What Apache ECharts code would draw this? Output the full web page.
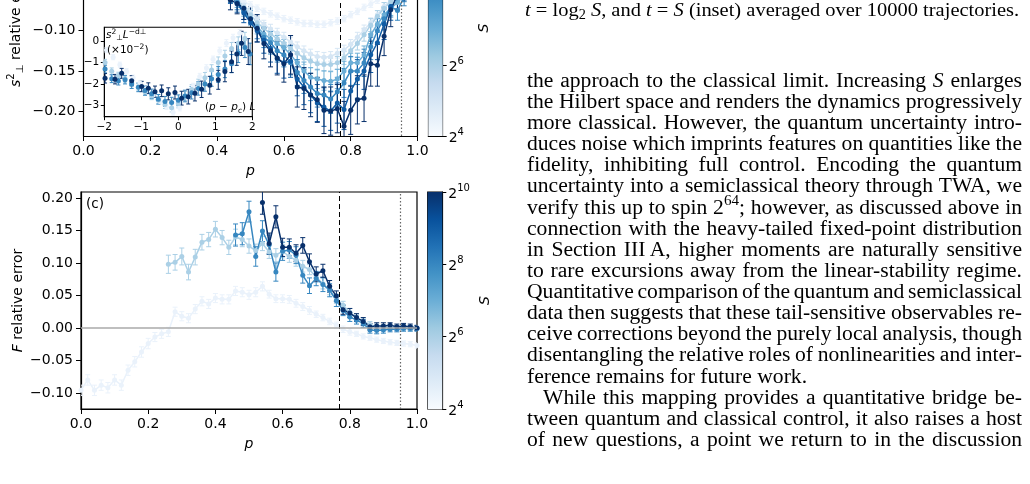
<!DOCTYPE html>
<html><head><meta charset="utf-8">
<script src="https://cdn.jsdelivr.net/npm/echarts@6/dist/echarts.min.js"></script>
<style>html,body{margin:0;padding:0;background:#fff;}#chart{width:1030px;height:484px;}</style>
</head><body><div id="chart"></div>
<script>
// ================= DATA =================
const P_CRIT = 0.772;          // dashed line
const P_DOT = 0.95;            // dotted line
const CBAR_RANGE = [4, 10];    // log2 S
const CBAR_TICKS = [4, 6, 8, 10];
const TOP_Y_TICKS = [-0.20, -0.15, -0.10];
const BOT_Y_TICKS = [-0.10, -0.05, 0.00, 0.05, 0.10, 0.15, 0.20];
const INS_Y_TICKS = [-3, -2, -1, 0];

// ---- panel (b): s_perp^2 relative error (upper part cropped) ----
const topP = [0.44,0.46,0.48,0.50,0.52,0.54,0.56,0.58,0.60,0.62,0.64,0.66,0.68,0.70,0.72,0.74,0.76,0.78,0.80,0.82,0.84,0.86,0.88,0.90,0.92,0.94,0.96];
const topV4  = [-0.055,-0.060,-0.064,-0.068,-0.072,-0.076,-0.079,-0.082,-0.085,-0.087,-0.089,-0.091,-0.091,-0.092,-0.092,-0.090,-0.088,-0.085,-0.080,-0.076,-0.071,-0.067,-0.062,-0.057,-0.052,-0.048,-0.044];
const topV5  = [-0.052,-0.060,-0.068,-0.077,-0.085,-0.092,-0.098,-0.103,-0.108,-0.114,-0.120,-0.125,-0.129,-0.132,-0.133,-0.132,-0.128,-0.124,-0.117,-0.108,-0.099,-0.090,-0.080,-0.070,-0.062,-0.055,-0.048];
const topV6  = [-0.054,-0.062,-0.071,-0.080,-0.090,-0.097,-0.104,-0.110,-0.116,-0.122,-0.128,-0.134,-0.138,-0.141,-0.142,-0.142,-0.140,-0.134,-0.125,-0.116,-0.105,-0.093,-0.082,-0.072,-0.064,-0.058,-0.050];
const topV7  = [-0.055,-0.064,-0.074,-0.085,-0.095,-0.104,-0.110,-0.116,-0.121,-0.130,-0.140,-0.150,-0.158,-0.160,-0.162,-0.163,-0.160,-0.150,-0.140,-0.140,-0.130,-0.105,-0.092,-0.080,-0.072,-0.065,-0.056];
const topV8  = [-0.056,-0.065,-0.076,-0.086,-0.098,-0.108,-0.115,-0.125,-0.130,-0.140,-0.152,-0.162,-0.170,-0.178,-0.180,-0.185,-0.176,-0.165,-0.150,-0.150,-0.140,-0.120,-0.100,-0.085,-0.070,-0.075,-0.058];
const topV9  = [-0.056,-0.066,-0.078,-0.090,-0.100,-0.112,-0.122,-0.135,-0.140,-0.138,-0.160,-0.170,-0.180,-0.190,-0.195,-0.200,-0.190,-0.198,-0.175,-0.160,-0.150,-0.130,-0.115,-0.092,-0.070,-0.060,-0.050];
const topV10 = [-0.062,-0.066,-0.072,-0.085,-0.097,-0.116,-0.125,-0.134,-0.141,-0.130,-0.170,-0.172,-0.180,-0.186,-0.199,-0.200,-0.197,-0.219,-0.199,-0.186,-0.184,-0.141,-0.143,-0.107,-0.074,-0.055,-0.045];
const topE4  = [0.004,0.004,0.004,0.004,0.004,0.004,0.004,0.004,0.004,0.004,0.004,0.004,0.004,0.004,0.004,0.004,0.004,0.004,0.004,0.004,0.004,0.004,0.004,0.004,0.004,0.004,0.004];
const topE5  = [0.005,0.005,0.005,0.005,0.005,0.005,0.006,0.006,0.006,0.006,0.006,0.006,0.006,0.006,0.006,0.006,0.006,0.006,0.006,0.006,0.006,0.006,0.005,0.005,0.005,0.005,0.005];
const topE6  = [0.006,0.006,0.006,0.007,0.007,0.007,0.007,0.008,0.008,0.008,0.008,0.008,0.008,0.008,0.008,0.008,0.008,0.008,0.008,0.008,0.008,0.008,0.007,0.007,0.007,0.006,0.006];
const topE7  = [0.007,0.007,0.008,0.008,0.009,0.009,0.010,0.010,0.010,0.011,0.011,0.011,0.012,0.012,0.012,0.012,0.012,0.012,0.012,0.012,0.011,0.011,0.010,0.010,0.009,0.009,0.008];
const topE8  = [0.009,0.009,0.010,0.011,0.012,0.013,0.014,0.014,0.015,0.015,0.016,0.016,0.017,0.017,0.018,0.018,0.018,0.018,0.018,0.017,0.017,0.016,0.015,0.014,0.013,0.012,0.011];
const topE9  = [0.010,0.011,0.012,0.013,0.014,0.016,0.017,0.018,0.019,0.020,0.021,0.022,0.022,0.023,0.024,0.024,0.025,0.025,0.024,0.024,0.023,0.022,0.021,0.019,0.017,0.015,0.013];
const topE10 = [0.012,0.013,0.014,0.015,0.017,0.019,0.020,0.021,0.023,0.024,0.025,0.026,0.027,0.028,0.029,0.030,0.030,0.031,0.030,0.030,0.029,0.028,0.026,0.024,0.021,0.018,0.015];

// ---- inset: s_perp^2 L^{-d_perp} (x10^-2) vs (p-p_c)L ----
const insX4  = [-1.94,-1.76,-1.58,-1.40,-1.22,-1.04,-0.86,-0.68,-0.50,-0.32,-0.14,0.04,0.22,0.40,0.58,0.76,0.94,1.12,1.30,1.48,1.66];
const insY4  = [-0.42,-0.75,-1.10,-1.40,-1.70,-1.95,-2.20,-2.50,-2.80,-3.05,-3.30,-3.10,-2.60,-2.10,-1.65,-1.25,-0.85,-0.45,-0.10,0.15,0.36];
const insE4  = [0.12,0.12,0.12,0.12,0.12,0.12,0.13,0.13,0.13,0.13,0.14,0.14,0.14,0.14,0.15,0.15,0.15,0.16,0.16,0.16,0.17];
const insX6  = [-1.98,-1.80,-1.62,-1.44,-1.26,-1.08,-0.90,-0.72,-0.54,-0.36,-0.18,0.00,0.18,0.36,0.54,0.72,0.90,1.08,1.26,1.44,1.62,1.80];
const insY6  = [-1.00,-1.40,-1.60,-1.75,-1.95,-2.15,-2.35,-2.55,-2.75,-2.95,-3.10,-2.90,-2.55,-2.25,-2.00,-1.70,-1.35,-1.00,-0.70,-0.35,-0.10,0.10];
const insE6  = [0.15,0.15,0.15,0.16,0.16,0.16,0.17,0.17,0.18,0.18,0.19,0.20,0.21,0.22,0.23,0.24,0.25,0.26,0.27,0.28,0.29,0.30];
const insX8  = [-1.98,-1.80,-1.62,-1.44,-1.26,-1.08,-0.90,-0.72,-0.54,-0.36,-0.18,0.00,0.18,0.36,0.54,0.72,0.90,1.08,1.26,1.44,1.62,1.80,1.94];
const insY8  = [-1.30,-1.75,-1.85,-1.80,-2.00,-2.15,-2.30,-2.45,-2.70,-2.80,-2.85,-2.75,-2.55,-2.40,-2.20,-2.00,-1.75,-1.55,-1.30,-1.05,-0.55,-0.30,-0.60];
const insE8  = [0.18,0.18,0.19,0.19,0.20,0.20,0.21,0.22,0.22,0.23,0.24,0.25,0.27,0.29,0.31,0.33,0.35,0.37,0.40,0.42,0.45,0.47,0.50];
const insX10 = [-1.98,-1.71,-1.53,-1.26,-0.99,-0.81,-0.63,-0.45,-0.27,-0.09,0.09,0.27,0.45,0.63,0.85,1.08,1.26,1.44,1.58,1.71,1.89];
const insY10 = [-1.73,-1.77,-1.50,-1.84,-2.11,-2.19,-2.35,-2.31,-2.45,-2.39,-2.65,-2.58,-2.42,-2.24,-2.05,-1.80,-1.42,-0.96,-0.60,-0.11,-0.49];
const insE10 = [0.22,0.22,0.23,0.23,0.24,0.25,0.26,0.27,0.28,0.30,0.32,0.34,0.36,0.38,0.41,0.44,0.47,0.50,0.53,0.56,0.60];

// ---- panel (c): F relative error ----
const cP4 = [0.00,0.02,0.04,0.06,0.08,0.10,0.12,0.14,0.16,0.18,0.20,0.22,0.24,0.26,0.28,0.30,0.32,0.34,0.36,0.38,0.40,0.42,0.44,0.46,0.48,0.50,0.52,0.54,0.56,0.58,0.60,0.62,0.64,0.66,0.68,0.70,0.72,0.74,0.76,0.78,0.80,0.82,0.84,0.86,0.88,0.90,0.92,0.94,0.96,0.98,1.00];
const cV4 = [-0.096,-0.080,-0.096,-0.088,-0.092,-0.080,-0.088,-0.065,-0.052,-0.037,-0.024,-0.014,-0.009,-0.006,0.025,0.018,0.015,0.029,0.041,0.037,0.046,0.044,0.044,0.057,0.055,0.051,0.055,0.064,0.052,0.045,0.045,0.044,0.038,0.033,0.027,0.021,0.016,0.010,0.004,-0.002,-0.006,-0.009,-0.013,-0.015,-0.018,-0.020,-0.022,-0.023,-0.024,-0.025,-0.027];
const cE4 = [0.008,0.008,0.008,0.008,0.008,0.008,0.008,0.008,0.008,0.008,0.008,0.007,0.007,0.007,0.007,0.007,0.007,0.007,0.007,0.007,0.007,0.007,0.007,0.007,0.007,0.007,0.007,0.007,0.006,0.006,0.006,0.006,0.006,0.006,0.006,0.005,0.005,0.005,0.005,0.005,0.005,0.004,0.004,0.004,0.004,0.004,0.004,0.004,0.004,0.004,0.004];
const cP6 = [0.26,0.28,0.30,0.32,0.34,0.36,0.38,0.40,0.42,0.44,0.46,0.48,0.50,0.52,0.54,0.56,0.58,0.60,0.62,0.64,0.66,0.68,0.70,0.72,0.74,0.76,0.78,0.80,0.82,0.84,0.86,0.88,0.90,0.92,0.94,0.96,0.98,1.00];
const cV6 = [0.098,0.101,0.110,0.086,0.109,0.132,0.136,0.152,0.139,0.124,0.140,0.136,0.126,0.119,0.130,0.117,0.112,0.118,0.110,0.104,0.095,0.090,0.078,0.068,0.058,0.045,0.035,0.024,0.015,0.010,0.005,0.002,0.001,0.002,0.000,0.001,0.000,0.000];
const cE6 = [0.014,0.012,0.013,0.012,0.012,0.012,0.011,0.012,0.011,0.011,0.012,0.011,0.011,0.010,0.011,0.010,0.010,0.010,0.009,0.009,0.009,0.008,0.008,0.008,0.007,0.007,0.006,0.006,0.005,0.005,0.005,0.004,0.004,0.004,0.004,0.004,0.004,0.004];
const cP8 = [0.46,0.48,0.50,0.52,0.54,0.56,0.58,0.60,0.62,0.64,0.66,0.68,0.70,0.72,0.74,0.76,0.78,0.80,0.82,0.84,0.86,0.88,0.90,0.92,0.94,0.96,0.98,1.00];
const cV8 = [0.143,0.145,0.179,0.110,0.149,0.128,0.086,0.118,0.120,0.112,0.081,0.065,0.076,0.067,0.058,0.042,0.027,0.017,0.012,0.007,-0.003,-0.004,-0.003,-0.002,-0.002,-0.001,-0.001,-0.001];
const cE8 = [0.017,0.017,0.016,0.015,0.016,0.015,0.014,0.014,0.013,0.013,0.012,0.012,0.011,0.011,0.010,0.009,0.008,0.007,0.006,0.006,0.005,0.005,0.005,0.004,0.004,0.004,0.004,0.004];
const cP10 = [0.54,0.56,0.58,0.60,0.62,0.64,0.66,0.68,0.70,0.72,0.74,0.76,0.78,0.80,0.82,0.84,0.86,0.88,0.90,0.92,0.94,0.96,0.98,1.00];
const cV10 = [0.193,0.130,0.171,0.124,0.124,0.115,0.127,0.102,0.083,0.088,0.064,0.049,0.028,0.023,0.016,0.010,0.002,0.003,0.003,0.004,0.002,0.003,0.002,0.000];
const cE10 = [0.018,0.016,0.017,0.014,0.013,0.013,0.012,0.012,0.011,0.010,0.009,0.008,0.007,0.007,0.006,0.006,0.005,0.005,0.005,0.004,0.004,0.004,0.004,0.004];

// ---- running text ----
const CAPTION_LINE = '*t* = log_2_ *S*, and *t* = *S* (inset) averaged over 10000 trajectories.';
const TEXT_LINES = [
 'the approach to the classical limit. Increasing *S* enlarges',
 'the Hilbert space and renders the dynamics progressively',
 'more classical. However, the quantum uncertainty intro-',
 'duces noise which imprints features on quantities like the',
 'fidelity, inhibiting full control. Encoding the quantum',
 'uncertainty into a semiclassical theory through TWA, we',
 'verify this up to spin 2^64^; however, as discussed above in',
 'connection with the heavy-tailed fixed-point distribution',
 'in Section III\u2009A, higher moments are naturally sensitive',
 'to rare excursions away from the linear-stability regime.',
 'Quantitative comparison of the quantum and semiclassical',
 'data then suggests that these tail-sensitive observables re-',
 'ceive corrections beyond the purely local analysis, though',
 'disentangling the relative roles of nonlinearities and inter-',
 'ference remains for future work.',
 'While this mapping provides a quantitative bridge be-',
 'tween quantum and classical control, it also raises a host',
 'of new questions, a point we return to in the discussion'
];
const TEXT_JUSTIFY = [1,1,1,1,1,1,1,1,1,1,1,1,1,1,0,1,1,1];
const TEXT_INDENT  = [0,0,0,0,0,0,0,0,0,0,0,0,0,0,0,16,0,0];

// ================= STYLE =================
const BLUES_STOPS = [
 {offset:0,color:'#f7fbff'},{offset:0.125,color:'#deebf7'},{offset:0.25,color:'#c6dbef'},
 {offset:0.375,color:'#9ecae1'},{offset:0.5,color:'#6baed6'},{offset:0.625,color:'#4292c6'},
 {offset:0.75,color:'#2171b5'},{offset:0.875,color:'#08519c'},{offset:1,color:'#08306b'}];
const SCOL = {4:'#eaf2fb',5:'#d6e6f4',6:'#abd0e6',7:'#6baed6',8:'#3787c0',9:'#105ca4',10:'#08306b'};
const SANS = '"DejaVu Sans", sans-serif';
const SERIF = '"Liberation Serif", "Times New Roman", serif';
const FS_AX = 14;
const minus = v => (v < 0 ? '\u2212' : '') + Math.abs(v);
const fmt = d => v => (v < -1e-9 ? '\u2212' : '') + Math.abs(v).toFixed(d);
const RICH = {
  i:{fontStyle:'italic', fontFamily:SANS, fontSize:FS_AX},
  sup:{fontFamily:SANS, fontSize:10, verticalAlign:'top', lineHeight:18},
  sub:{fontFamily:SANS, fontSize:10, verticalAlign:'bottom', lineHeight:18}
};

function lineSeries(xi, yi, ps, vs, color, extra) {
  return Object.assign({type:'line', xAxisIndex:xi, yAxisIndex:yi,
    data: ps.map((p,i)=>[p, vs[i]]), symbol:'circle', symbolSize:5, showSymbol:true,
    lineStyle:{width:1.5, color:color}, itemStyle:{color:color}, clip:true, silent:true, animation:false}, extra||{});
}
function scatterSeries(xi, yi, ps, vs, color, z) {
  return {type:'scatter', xAxisIndex:xi, yAxisIndex:yi, data: ps.map((p,i)=>[p, vs[i]]),
    symbol:'circle', symbolSize:5, itemStyle:{color:color, opacity:1}, clip:true, silent:true, z:z, animation:false};
}
function errSeries(xi, yi, ps, vs, es, color, cap, z) {
  return {type:'custom', xAxisIndex:xi, yAxisIndex:yi, clip:true, silent:true, z:z||2, animation:false,
    data: ps.map((p,i)=>[p, vs[i], es[i]]), encode:{x:0, y:1},
    renderItem(params, api){
      const x = api.value(0), v = api.value(1), e = api.value(2);
      const a = api.coord([x, v-e]), b = api.coord([x, v+e]);
      const st = {stroke:color, lineWidth:1};
      return {type:'group', children:[
        {type:'line', shape:{x1:a[0],y1:a[1],x2:b[0],y2:b[1]}, style:st},
        {type:'line', shape:{x1:a[0]-cap,y1:a[1],x2:a[0]+cap,y2:a[1]}, style:st},
        {type:'line', shape:{x1:b[0]-cap,y1:b[1],x2:b[0]+cap,y2:b[1]}, style:st}]};
    }};
}
function vLines(extra) {
  return {symbol:'none', silent:true, animation:false, label:{show:false},
    data:[{xAxis:P_CRIT, lineStyle:{type:[5,3], color:'#000', width:1}},
          {xAxis:P_DOT, lineStyle:{type:[1.5,2], color:'#666', width:1.2}}].concat(extra||[])};
}
function cbarSeries(xi, yi) {
  return {type:'custom', xAxisIndex:xi, yAxisIndex:yi, silent:true, animation:false, clip:true,
    data:[[0, CBAR_RANGE[0], 1, CBAR_RANGE[1]]],
    renderItem(params, api){
      const a = api.coord([api.value(0), api.value(1)]), b = api.coord([api.value(2), api.value(3)]);
      return {type:'rect', shape:{x:a[0], y:b[1], width:b[0]-a[0], height:a[1]-b[1]},
        style:{fill:{type:'linear', x:0, y:1, x2:0, y2:0, colorStops:BLUES_STOPS}}};
    }};
}

// ================= LAYOUT =================
// panel (b) is cropped at the top of the page: only its lower part is visible
const G_TOP = {left:83.5, top:0, width:334, height:136};
const TOP_YMAX = -0.0618;                 // value at the upper page edge
const CB1_YMAX = 7.85;                    // log2 S at the upper page edge
const G_INS = {left:104.3, top:27.3, width:148, height:89.4};
const G_BOT = {left:81, top:192, width:336, height:217};
const G_CB1 = {left:428.3, top:0, width:14.4, height:136};
const G_CB2 = {left:427.7, top:192, width:14.6, height:217};

const AXL = {show:true, onZero:false, lineStyle:{color:'#000', width:1.2}};
function mainX(gi) {
  return {gridIndex:gi, type:'value', min:0, max:1, interval:0.2,
    axisLine:AXL,
    axisTick:{show:true, length:5, lineStyle:{color:'#000', width:1}},
    axisLabel:{fontFamily:SANS, fontSize:FS_AX, color:'#000', margin:8, formatter:fmt(1)},
    splitLine:{show:false},
    name:'p', nameLocation:'middle', nameGap:28,
    nameTextStyle:{fontFamily:SANS, fontSize:FS_AX, fontStyle:'italic', color:'#000'}};
}
function mainY(gi, min, max, ticks, name, gap) {
  return {gridIndex:gi, type:'value', min:min, max:max,
    axisLine:AXL,
    axisTick:{show:true, length:5, customValues:ticks, lineStyle:{color:'#000', width:1}},
    axisLabel:{fontFamily:SANS, fontSize:FS_AX, color:'#000', margin:8, customValues:ticks, formatter:fmt(2)},
    splitLine:{show:false},
    name:name, nameLocation:'middle', nameGap:gap, nameRotate:90,
    nameTextStyle:{fontFamily:SANS, fontSize:FS_AX, color:'#000', rich:RICH}};
}
function lineOnlyY(gi, pos, min, max){
  return {gridIndex:gi, type:'value', position:pos, min:min, max:max, axisLine:AXL,
    axisTick:{show:false}, axisLabel:{show:false}, splitLine:{show:false}};
}
function cbX(gi, showLine){ return {gridIndex:gi, type:'value', min:0, max:1, axisLine:{show:!!showLine, lineStyle:{color:'#000', width:1.2}},
  axisTick:{show:false}, axisLabel:{show:false}, splitLine:{show:false}}; }
function cbY(gi, max, ticks, name){
  return {gridIndex:gi, type:'value', position:'right', min:CBAR_RANGE[0], max:max,
    axisLine:AXL, splitLine:{show:false},
    axisTick:{show:true, length:4, inside:false, customValues:ticks, lineStyle:{color:'#000', width:1}},
    axisLabel:{fontFamily:SANS, fontSize:FS_AX, color:'#000', margin:6, customValues:ticks,
      formatter:v=>'{b|2}{sup|'+v+'}',
      rich:{b:{fontFamily:SANS, fontSize:FS_AX, lineHeight:18, verticalAlign:'bottom'},
            sup:{fontFamily:SANS, fontSize:10, lineHeight:18, verticalAlign:'top'}}},
    name:name, nameLocation:'middle', nameGap:36, nameRotate:90,
    nameTextStyle:{fontFamily:SANS, fontSize:FS_AX, color:'#000', rich:RICH}};
}

// ---- series ----
const series = [];
series.push(cbarSeries(3,3));
series.push(cbarSeries(4,4));

// panel (b)
const topSets = [[4,topV4,topE4],[5,topV5,topE5],[6,topV6,topE6],[7,topV7,topE7],[8,topV8,topE8],[9,topV9,topE9],[10,topV10,topE10]];
topSets.forEach((s,k)=>{
  series.push(errSeries(0,0,topP,s[1],s[2],SCOL[s[0]],2.5,2));
  series.push(lineSeries(0,0,topP,s[1],SCOL[s[0]], k===0 ? {markLine:vLines()} : {}));
});
// inset
const insSets = [[4,insX4,insY4,insE4],[6,insX6,insY6,insE6],[8,insX8,insY8,insE8],[10,insX10,insY10,insE10]];
insSets.forEach((s,k)=>{
  series.push(errSeries(1,1,s[1],s[2],s[3],SCOL[s[0]],2,12));
  const sc = scatterSeries(1,1,s[1],s[2],SCOL[s[0]],12);
  if (k===0) sc.markLine = {symbol:'none', silent:true, animation:false, label:{show:false},
    data:[{yAxis:0, lineStyle:{type:'solid', color:'#999', width:1.2}},
          {xAxis:0, lineStyle:{type:[3,2], color:'#000', width:1}}]};
  series.push(sc);
});
// panel (c)
const botSets = [[4,cP4,cV4,cE4],[6,cP6,cV6,cE6],[8,cP8,cV8,cE8],[10,cP10,cV10,cE10]];
botSets.forEach((s,k)=>{
  series.push(errSeries(2,2,s[1],s[2],s[3],SCOL[s[0]],2.5,2));
  series.push(lineSeries(2,2,s[1],s[2],SCOL[s[0]], k===0 ? {markLine:vLines([{yAxis:0, lineStyle:{type:'solid', color:'#aaa', width:1.5}}])} : {}));
});

// ---- running text: justified lines ----
const FS_TXT = 20, SX_TXT = 1.08;
const FS_CAP = 19.5, SX_CAP = 1.05;
const mctx = document.createElement('canvas').getContext('2d');
function segFont(k, fs){
  if (k==='i') return 'italic ' + fs + 'px ' + SERIF;
  if (k==='sup' || k==='sub') return (fs*0.7).toFixed(1) + 'px ' + SERIF;
  return fs + 'px ' + SERIF;
}
function parseWord(w){
  return w.split(/(\*[^*]+\*|\^[^\^]+\^|_[^_]+_)/).filter(s=>s.length).map(s=>{
    const L = s.length;
    if (L>2 && s[0]==='*' && s[L-1]==='*') return {t:s.slice(1,-1), k:'i'};
    if (L>2 && s[0]==='^' && s[L-1]==='^') return {t:s.slice(1,-1), k:'sup'};
    if (L>2 && s[0]==='_' && s[L-1]==='_') return {t:s.slice(1,-1), k:'sub'};
    return {t:s, k:'n'};
  });
}
function layoutLine(str, y, x0, x1, justify, fs, sx, out){
  const meas = (t, f) => { mctx.font = f; return mctx.measureText(t).width * sx; };
  const words = str.split(' ').map(w=>{
    const segs = parseWord(w);
    segs.forEach(sg=>{ sg.w = meas(sg.t, segFont(sg.k, fs)); });
    return {segs:segs, w:segs.reduce((a,b)=>a+b.w,0)};
  });
  const total = words.reduce((a,b)=>a+b.w,0);
  const gap = (justify && words.length>1) ? (x1-x0-total)/(words.length-1) : meas(' ', segFont('n', fs));
  let x = x0;
  words.forEach(wd=>{
    wd.segs.forEach(sg=>{
      const dy = sg.k==='sup' ? -fs*0.36 : (sg.k==='sub' ? fs*0.22 : 0);
      out.push({type:'text', x:x, y:y+dy, scaleX:sx, silent:true, z:50,
        style:{text:sg.t, font:segFont(sg.k, fs), fill:'#000', align:'left', verticalAlign:'middle',
               textAlign:'left', textVerticalAlign:'middle'}});
      x += sg.w;
    });
    x += gap;
  });
}
const TX0 = 527, TX1 = 1022, TY0 = 81.5, TDY = 21.13;
const graphics = [];
layoutLine(CAPTION_LINE, 11, 525, TX1, false, FS_CAP, SX_CAP, graphics);
TEXT_LINES.forEach((ln,i)=> layoutLine(ln, TY0 + i*TDY, TX0 + TEXT_INDENT[i], TX1, !!TEXT_JUSTIFY[i], FS_TXT, SX_TXT, graphics));

// panel annotations
const annStyle = (txt, fs) => ({text:txt, fontFamily:SANS, fontSize:fs, fill:'#000',
  align:'left', verticalAlign:'middle', textAlign:'left', textVerticalAlign:'middle',
  rich:{i:{fontStyle:'italic', fontFamily:SANS, fontSize:fs, lineHeight:fs*1.4},
        sup:{fontFamily:SANS, fontSize:fs*0.72, verticalAlign:'top', lineHeight:fs*1.4},
        sub:{fontFamily:SANS, fontSize:fs*0.72, verticalAlign:'bottom', lineHeight:fs*1.4},
        n:{fontFamily:SANS, fontSize:fs, lineHeight:fs*1.4}}});
graphics.push({type:'text', x:86, y:204, z:30, silent:true, style:annStyle('(c)', 13.5)});
graphics.push({type:'text', x:106, y:35, z:30, silent:true, style:annStyle('{i|s}{sup|2}{sub|\u22a5}{i|L}{sup|\u2212d\u22a5}', 10.5)});
graphics.push({type:'text', x:107, y:50.5, z:30, silent:true, style:annStyle('{n|(\u00d710}{sup|\u22122}{n|)}', 10.5)});
graphics.push({type:'text', x:205, y:107.5, z:30, silent:true, style:annStyle('{n|(}{i|p}{n| \u2212 }{i|p}{sub|c}{n|) }{i|L}', 10.5)});
// axis titles of the cropped panel (b), centred on its full (uncropped) height
const rotTitle = (txt, x, y) => ({type:'text', x:x, y:y, rotation:Math.PI/2, z:30, silent:true,
  style:Object.assign(annStyle(txt, FS_AX), {align:'center', textAlign:'center'})});
graphics.push(rotTitle('{i|s}{sup|2}{sub|\u22a5}{n| relative error}', 16, 28));
graphics.push(rotTitle('{i|S}', 484, 28));

// ================= OPTION =================
const option = {
  animation:false,
  backgroundColor:'#fff',
  grid:[
    Object.assign({show:false, containLabel:false}, G_TOP),
    Object.assign({show:true, borderColor:'#000', borderWidth:1.1, backgroundColor:'#fff', containLabel:false, z:10}, G_INS),
    Object.assign({show:true, borderColor:'#000', borderWidth:1.2, backgroundColor:'transparent', containLabel:false}, G_BOT),
    Object.assign({show:false, containLabel:false}, G_CB1),
    Object.assign({show:true, borderColor:'#000', borderWidth:1.2, containLabel:false}, G_CB2)
  ],
  xAxis:[
    mainX(0),
    {gridIndex:1, type:'value', min:-2, max:2, interval:1, z:11,
      axisLine:{show:true, onZero:false, lineStyle:{color:'#000', width:1}},
      axisTick:{show:true, length:3.5, lineStyle:{color:'#000'}},
      axisLabel:{fontFamily:SANS, fontSize:10.5, color:'#000', margin:5, formatter:v=>minus(v)},
      splitLine:{show:false}},
    mainX(2),
    cbX(3, true), cbX(4, false)
  ],
  yAxis:[
    mainY(0, -0.231, TOP_YMAX, TOP_Y_TICKS, '', 58),
    {gridIndex:1, type:'value', min:-3.51, max:0.634, z:11,
      axisLine:{show:true, onZero:false, lineStyle:{color:'#000', width:1}},
      axisTick:{show:true, length:3.5, customValues:INS_Y_TICKS, lineStyle:{color:'#000'}},
      axisLabel:{fontFamily:SANS, fontSize:10.5, color:'#000', margin:5, customValues:INS_Y_TICKS, formatter:v=>minus(v)},
      splitLine:{show:false}},
    mainY(2, -0.1247, 0.2092, BOT_Y_TICKS, '{i|F} relative error', 56),
    cbY(3, CB1_YMAX, [4,6], ''),
    cbY(4, CBAR_RANGE[1], CBAR_TICKS, '{i|S}'),
    lineOnlyY(0, 'right', -0.231, TOP_YMAX),
    lineOnlyY(3, 'left', CBAR_RANGE[0], CB1_YMAX)
  ],
  series:series,
  graphic:{elements:graphics}
};
const chart = echarts.init(document.getElementById('chart'), null, {renderer:'canvas'});
chart.setOption(option);
</script>
</body></html>
